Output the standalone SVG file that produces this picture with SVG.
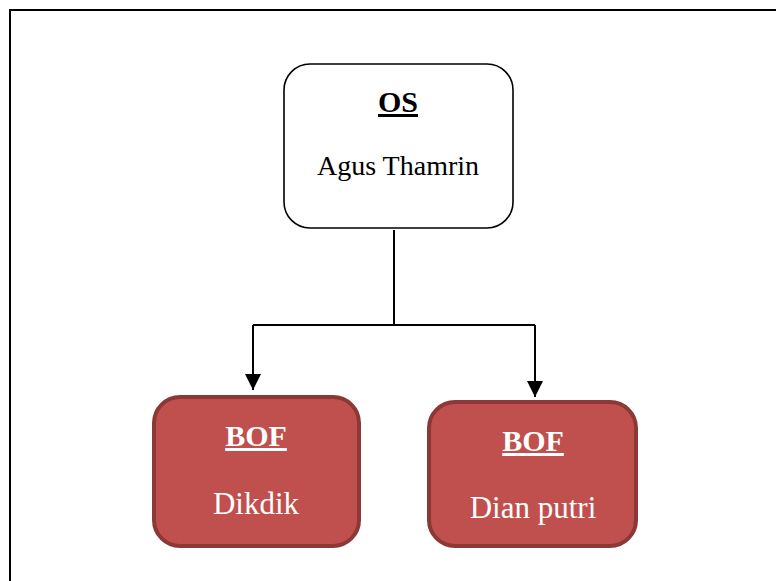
<svg xmlns="http://www.w3.org/2000/svg" width="776" height="581" viewBox="0 0 776 581">
<defs>
<style>
.t{font-family:"Liberation Serif","Times New Roman",serif;text-anchor:middle}
.h{font-weight:bold;text-decoration:underline;font-size:30px}
.w{fill:#fff}
.bof{fill:#C0504D;stroke:#8C3836;stroke-width:4}
.line{fill:none;stroke:#000;stroke-width:2}
</style>
<marker id="arr" markerWidth="16" markerHeight="16" viewBox="0 0 16 16" refX="16" refY="8" orient="auto" markerUnits="userSpaceOnUse">
<path d="M0,0 L16,8 L0,16 z" fill="#000"/>
</marker>
</defs>
<rect width="776" height="581" fill="#fff"/>
<path d="M10,581 L10,10 L776,10" fill="none" stroke="#000" stroke-width="2"/>
<g id="connectors">
<path class="line" d="M394,230 L394,325 M253,325 L535,325"/>
<path class="line" d="M253,325 L253,390" marker-end="url(#arr)"/>
<path class="line" d="M535,325 L535,397" marker-end="url(#arr)"/>
</g>
<g id="os">
<rect x="284" y="64" width="229" height="164" rx="26" fill="#fff" stroke="#000" stroke-width="1.6"/>
<text class="t h" x="398" y="112">OS</text>
<text class="t" x="398" y="175" font-size="28">Agus Thamrin</text>
</g>
<g id="bof1">
<rect class="bof" x="154" y="397" width="205" height="149" rx="26"/>
<text class="t h w" x="256" y="446">BOF</text>
<text class="t w" x="256" y="514" font-size="31">Dikdik</text>
</g>
<g id="bof2">
<rect class="bof" x="429" y="402" width="207" height="144" rx="26"/>
<text class="t h w" x="533" y="451">BOF</text>
<text class="t w" x="533" y="518" font-size="31">Dian putri</text>
</g>
</svg>
